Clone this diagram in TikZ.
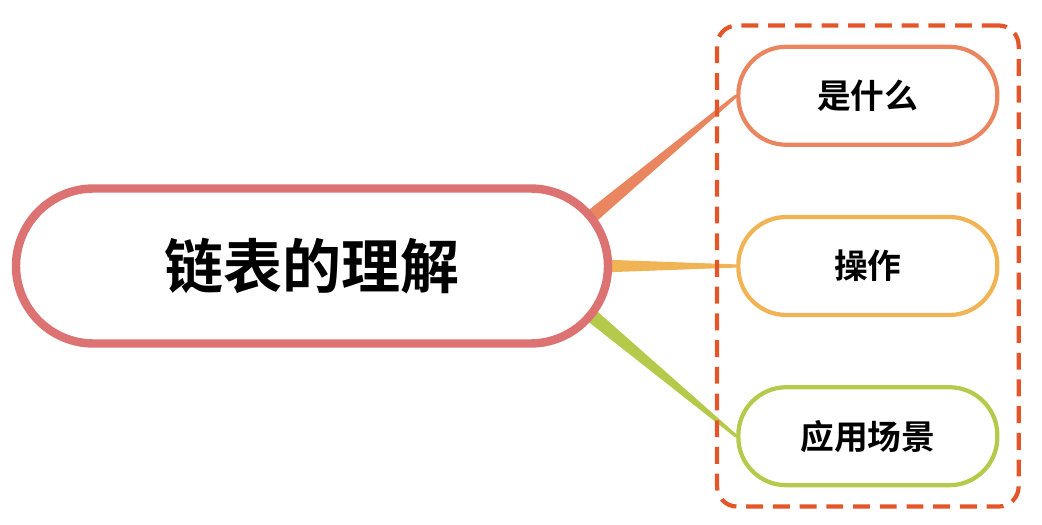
\documentclass[tikz,border=0pt]{standalone}
\usepackage{fontspec}
\usepackage{xcolor}
\usepackage{tikz}
\usetikzlibrary{positioning,calc,fit,backgrounds}
\newfontfamily\cjkbold{Noto Sans CJK SC Bold}
\definecolor{mapred}{HTML}{DD7272}
\definecolor{maporange}{HTML}{E98660}
\definecolor{mapyellow}{HTML}{F0B455}
\definecolor{mapgreen}{HTML}{B5C94B}
\definecolor{mapdash}{HTML}{E4552A}

\begin{document}
\begin{tikzpicture}[
    rootbox/.style={draw=mapred, fill=white, line width=6pt, rounded corners=1.94cm,
                    minimum width=14.8cm, minimum height=3.875cm,
                    font=\cjkbold\fontsize{42}{48}\selectfont},
    leafbox/.style={fill=white, line width=3pt, rounded corners=1.2cm,
                    minimum width=6.475cm, minimum height=2.45cm,
                    font=\cjkbold\fontsize{24}{28}\selectfont},
    groupbox/.style={draw=mapdash, dashed, dash pattern=on 12pt off 7pt,
                     line width=3pt, rounded corners=0.5cm, inner sep=0.48cm},
]
\useasboundingbox (0,0) rectangle (26.05,13.1);

% root
\node[rootbox] (root) at (7.8,6.45) {链表的理解};

% leaves
\node[leafbox, draw=mapyellow, right=3.1cm of root] (ops) {操作};
\node[leafbox, draw=maporange, above=1.7cm of ops] (what) {是什么};
\node[leafbox, draw=mapgreen, below=1.7cm of ops] (scene) {应用场景};

% group frame
\node[groupbox, fit=(what) (scene)] (group) {};

% tapered branches
\coordinate (hub) at ($(root.east)+(-2,0)$);
\begin{scope}[on background layer]
\fill[maporange] ($(hub)!0.225cm!90:(what.west)$) -- ($(what.west)!0.04cm!-90:(hub)$)
    -- ($(what.west)!0.04cm!90:(hub)$) -- ($(hub)!0.225cm!-90:(what.west)$) -- cycle;
\fill[mapyellow] ($(hub)!0.225cm!90:(ops.west)$) -- ($(ops.west)!0.04cm!-90:(hub)$)
    -- ($(ops.west)!0.04cm!90:(hub)$) -- ($(hub)!0.225cm!-90:(ops.west)$) -- cycle;
\fill[mapgreen] ($(hub)!0.225cm!90:(scene.west)$) -- ($(scene.west)!0.04cm!-90:(hub)$)
    -- ($(scene.west)!0.04cm!90:(hub)$) -- ($(hub)!0.225cm!-90:(scene.west)$) -- cycle;
\end{scope}

\end{tikzpicture}
\end{document}
